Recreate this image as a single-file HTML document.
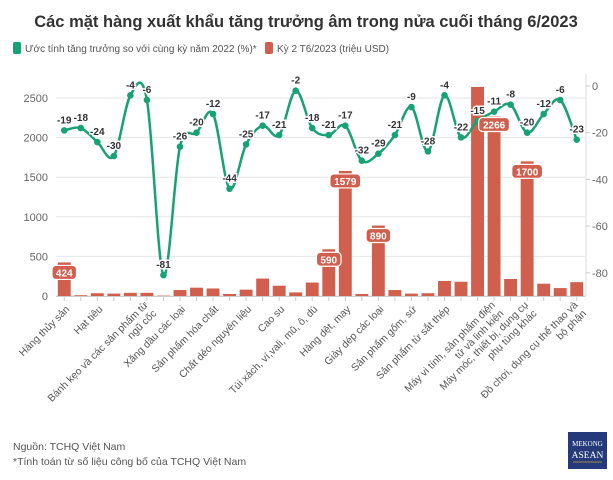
<!DOCTYPE html>
<html><head><meta charset="utf-8">
<style>
body{margin:0;background:#fff;width:613px;height:475px;overflow:hidden;font-family:"Liberation Sans",sans-serif;}
</style></head>
<body>
<svg id="chart" width="613" height="475" xmlns="http://www.w3.org/2000/svg" font-family="Liberation Sans, sans-serif">
  <text x="306" y="27" text-anchor="middle" font-size="16.5" font-weight="bold" fill="#333">Các mặt hàng xuất khẩu tăng trưởng âm trong nửa cuối tháng 6/2023</text>
  <g>
    <g>
      <rect x="13" y="42" width="8" height="12" rx="2" fill="#17a273"/>
      <text x="25" y="52" font-size="10" fill="#555">Ước tính tăng trưởng so với cùng kỳ năm 2022 (%)*</text>
    </g>
    <g>
      <rect x="265" y="42" width="8" height="12" rx="2" fill="#d05f4e"/>
      <text x="277" y="52" font-size="10" fill="#555">Kỳ 2 T6/2023 (triệu USD)</text>
    </g>
  </g>
  <g id="grid"></g>
  <g id="bars"></g>
  <g id="line"></g>
  <g id="labels"></g>
  <g id="axes"></g>
  <text x="13" y="450" font-size="10.5" fill="#555">Nguồn: TCHQ Việt Nam</text>
  <text x="13" y="465" font-size="10.5" fill="#555">*Tính toán từ số liệu công bố của TCHQ Việt Nam</text>
  <g>
    <rect x="568" y="432" width="39" height="37" fill="#243a7a"/>
    <text x="587.5" y="446" text-anchor="middle" font-size="7" fill="#fff" font-family="Liberation Serif, serif">MEKONG</text>
    <text x="587.5" y="458" text-anchor="middle" font-size="9.5" fill="#fff" font-family="Liberation Serif, serif">ASEAN</text>
    <line x1="573" y1="462" x2="602" y2="462" stroke="#c9a640" stroke-width="0.7"/>
  </g>
</svg>
<script>
const xLabels = ["Hàng thủy sản","Hạt tiêu","Bánh kẹo và các sản phẩm từ|ngũ cốc","Xăng dầu các loại","Sản phẩm hóa chất","Chất dẻo nguyên liệu","Cao su","Túi xách, ví,vali, mũ, ô, dù","Hàng dệt, may","Giày dép các loại","Sản phẩm gốm, sứ","Sản phẩm từ sắt thép","Máy vi tính, sản phẩm điện|tử và linh kiện","Máy móc, thiết bị, dụng cụ|phụ tùng khác","Đồ chơi, dụng cụ thể thao và|bộ phận"];
const xLabelIdx = [0,2,5,7,9,11,13,15,17,19,21,23,26,28,31];
const barValues = [424,10,35,30,40,40,5,75,105,95,25,80,220,130,45,170,590,1579,25,890,75,30,35,190,180,2640,2266,215,1700,155,100,175];
const barLabelShown = [424,590,1579,890,2266,1700];
const growth = [-19,-18,-24,-30,-4,-6,-81,-26,-20,-12,-44,-25,-17,-21,-2,-18,-21,-17,-32,-29,-21,-9,-28,-4,-22,-15,-11,-8,-20,-12,-6,-23];
const leftTicks = [0,500,1000,1500,2000,2500];
const rightTicks = [0,-20,-40,-60,-80];

const NS="http://www.w3.org/2000/svg";
const X0=56,X1=585,N=growth.length;
const step=(X1-X0)/N;
const xc=i=>X0+step*(i+0.5);
const yL=v=>296-v*(198/2500);
const yR=v=>86-v*(186.8/80);
function mk(tag,attrs,parent){const e=document.createElementNS(NS,tag);for(const k in attrs)e.setAttribute(k,attrs[k]);parent.appendChild(e);return e;}
const grid=document.getElementById('grid'),bars=document.getElementById('bars'),line=document.getElementById('line'),labels=document.getElementById('labels'),axes=document.getElementById('axes');

leftTicks.forEach(t=>{
  const g=mk('line',{x1:X0,x2:X1,y1:yL(t),y2:yL(t),stroke:'#e6e6e6','stroke-width':1},grid);
  
  
  const tx=mk('text',{x:X0-8,y:yL(t)+4,'text-anchor':'end','font-size':11,fill:'#666'},axes);
  tx.textContent=t;
  
  
});
mk('line',{x1:X1+1,x2:X1+1,y1:74,y2:297,stroke:'#ddd'},axes);
rightTicks.forEach(t=>{
  mk('line',{x1:X1+1,x2:X1+5,y1:yR(t),y2:yR(t),stroke:'#ccc'},axes);
  const tx=mk('text',{x:X1+7,y:yR(t)+4,'font-size':11,fill:'#666'},axes);
  tx.textContent=t;
  
  
});
mk('line',{x1:X0,x2:X1,y1:296.5,y2:296.5,stroke:'#ccc'},axes);

barValues.forEach((v,i)=>{
  const w=step*0.78;
  const r=mk('rect',{x:xc(i)-w/2,y:yL(v),width:w,height:296-yL(v),fill:'#d05f4e'},bars);
  
  
  mk('line',{x1:xc(i),x2:xc(i),y1:297,y2:301,stroke:'#ccc'},axes);
  if(barLabelShown.includes(v)){
    const txt=String(v),bw=txt.length*6.2+6;
    const ly=(v>2000?yL(v)+8:yL(v)+10);
    mk('rect',{x:xc(i)-bw/2,y:ly-7,width:bw,height:14,rx:4,fill:'#d05f4e',stroke:'#fff','stroke-width':1.2},labels);
    const t=mk('text',{x:xc(i),y:ly+4,'text-anchor':'middle','font-size':10,'font-weight':'bold',fill:'#fff'},labels);
    t.textContent=txt;
    
    
  }
});

const pts=growth.map((v,i)=>[xc(i),yR(v)]);
let d=`M${pts[0][0]},${pts[0][1]}`;
for(let i=0;i<pts.length-1;i++){
  const p0=pts[Math.max(0,i-1)],p1=pts[i],p2=pts[i+1],p3=pts[Math.min(pts.length-1,i+2)];
  const c1=[p1[0]+(p2[0]-p0[0])/6,p1[1]+(p2[1]-p0[1])/6];
  const c2=[p2[0]-(p3[0]-p1[0])/6,p2[1]-(p3[1]-p1[1])/6];
  d+=` C${c1[0]},${c1[1]} ${c2[0]},${c2[1]} ${p2[0]},${p2[1]}`;
}
const path=mk('path',{d:d,fill:'none',stroke:'#17a273','stroke-width':2.5},line);


growth.forEach((v,i)=>{
  const c=mk('circle',{cx:xc(i),cy:yR(v),r:3.3,fill:'#17a273'},line);
  
  
  const t=mk('text',{x:xc(i),y:yR(v)-7,'text-anchor':'middle','font-size':10,'font-weight':'bold',fill:'#333',stroke:'#fff','stroke-width':3,'paint-order':'stroke'},labels);
  t.textContent=v;
  
  
});

xLabels.forEach((lab,k)=>{
  const i=xLabelIdx[k];
  const x=xc(i)+3,y=307;
  const g=mk('g',{transform:`translate(${x},${y}) rotate(-45)`},axes);
  
  
  const lines=lab.split('|');
  lines.forEach((ln,j)=>{
    const t=mk('text',{x:0,y:(j-(lines.length-1)/2)*12+4,'text-anchor':'end','font-size':10.3,fill:'#555'},g);
    t.textContent=ln;
  });
});
</script>
</body></html>
